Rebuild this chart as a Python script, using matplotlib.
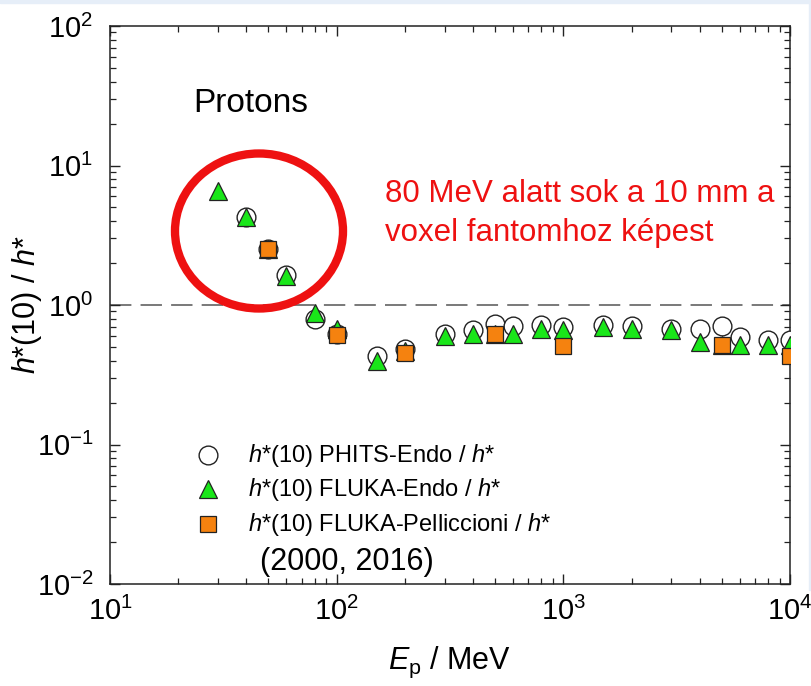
import matplotlib
matplotlib.use("Agg")
import matplotlib.pyplot as plt
from matplotlib.patches import Ellipse, Rectangle
from matplotlib.ticker import LogLocator, NullFormatter

plt.rcParams["font.family"] = ["Liberation Sans", "DejaVu Sans"]
plt.rcParams["mathtext.fontset"] = "custom"
plt.rcParams["mathtext.rm"] = "Liberation Sans"
plt.rcParams["mathtext.it"] = "Liberation Sans:italic"
plt.rcParams["mathtext.bf"] = "Liberation Sans:bold"

# Proton energies (MeV) and h*(10)/h* ratios
e_phits = [40, 50, 60, 80, 100, 150, 200, 300, 400, 500, 600, 800, 1000,
           1500, 2000, 3000, 4000, 5000, 6000, 8000, 10000]
r_phits = [4.3, 2.5, 1.65, 0.79, 0.62, 0.43, 0.48, 0.62, 0.66, 0.73, 0.71,
           0.72, 0.70, 0.72, 0.71, 0.67, 0.67, 0.71, 0.59, 0.56, 0.56]

e_fluka_endo = [30, 40, 50, 60, 80, 100, 150, 200, 300, 400, 500, 600, 800,
                1000, 1500, 2000, 3000, 4000, 5000, 6000, 8000, 10000]
r_fluka_endo = [6.6, 4.25, 2.5, 1.61, 0.88, 0.67, 0.40, 0.47, 0.60, 0.62,
                0.62, 0.62, 0.67, 0.66, 0.70, 0.67, 0.66, 0.54, 0.52, 0.52,
                0.52, 0.52]

e_fluka_pell = [50, 100, 200, 500, 1000, 5000, 10000]
r_fluka_pell = [2.5, 0.61, 0.45, 0.62, 0.51, 0.52, 0.43]

x_ticks = [1e1, 1e2, 1e3, 1e4]
y_ticks = [1e-2, 1e-1, 1e0, 1e1, 1e2]

legend_labels = [r"$h$*(10) PHITS-Endo / $h$*",
                 r"$h$*(10) FLUKA-Endo / $h$*",
                 r"$h$*(10) FLUKA-Pelliccioni / $h$*"]
legend_extra = "(2000, 2016)"

W, H = 812, 686
fig = plt.figure(figsize=(W / 100, H / 100), dpi=100)
ax = fig.add_axes([110 / W, 1 - 584 / H, 680 / W, 558 / H])
ax.set_xscale("log")
ax.set_yscale("log")
ax.set_xlim(10, 1e4)
ax.set_ylim(1e-2, 1e2)

ax.axhline(1.0, color="#555555", lw=1.1, dashes=(14, 6), zorder=1)

circle_style = dict(marker="o", ms=13.5, mfc="white", mec="#222222", mew=1.0, ls="none")
tri_style = dict(marker="^", ms=13.5, mfc="#19e619", mec="#222222", mew=0.9, ls="none")
sq_style = dict(marker="s", ms=12, mfc="#f5820f", mec="#222222", mew=0.9, ls="none")

ax.plot(e_phits, r_phits, zorder=3, **circle_style)
ax.plot(e_fluka_endo, r_fluka_endo, zorder=4, **tri_style)
ax.plot(e_fluka_pell, r_fluka_pell, zorder=5, **sq_style)

# Axis ticks
ax.set_xticks(x_ticks)
ax.set_yticks(y_ticks)
ax.xaxis.set_minor_locator(LogLocator(base=10, subs=range(2, 10), numticks=20))
ax.yaxis.set_minor_locator(LogLocator(base=10, subs=range(2, 10), numticks=20))
ax.xaxis.set_minor_formatter(NullFormatter())
ax.yaxis.set_minor_formatter(NullFormatter())
ax.tick_params(which="both", direction="in", top=True, right=True, color="#222222")
ax.tick_params(which="major", length=7, width=1.0, labelsize=21, pad=9)
ax.tick_params(which="minor", length=4, width=0.9)
ax.tick_params(axis="y", which="major", pad=12)
for sp in ax.spines.values():
    sp.set_linewidth(1.1)
    sp.set_color("#222222")

ax.set_xlabel(r"$E_{\mathrm{p}}$ / MeV", fontsize=22, labelpad=14)
ax.set_ylabel(r"$h$*(10) / $h$*", fontsize=22)
ax.yaxis.set_label_coords(-0.097, 0.5)

ax.text(0.122, 0.861, "Protons", transform=ax.transAxes, fontsize=24,
        va="center", ha="left")

# Legend drawn as markers with text beside them
leg_rows = [0.231, 0.170, 0.1075]
for yy, style, lab in zip(leg_rows, [circle_style, tri_style, sq_style], legend_labels):
    ax.plot([0.144], [yy], transform=ax.transAxes, clip_on=False, zorder=6, **style)
    ax.text(0.203, yy, lab, transform=ax.transAxes, fontsize=17,
            va="center", ha="left")
ax.text(0.221, 0.039, legend_extra, transform=ax.transAxes, fontsize=22,
        va="center", ha="left")

# Annotation: circled low-energy region and remark
fig.patches.append(Ellipse((259 / W, 1 - 231 / H), 168 / W, 155 / H,
                           transform=fig.transFigure, fill=False,
                           edgecolor="#ee1111", lw=6, zorder=10))
fig.text(385 / W, 1 - 194 / H, "80 MeV alatt sok a 10 mm a", color="#ee1111",
         fontsize=22.5, va="center", ha="left")
fig.text(385 / W, 1 - 233 / H, "voxel fantomhoz képest", color="#ee1111",
         fontsize=22.5, va="center", ha="left")

# Light slide frame at the top and right edges
fig.patches.append(Rectangle((0, 1 - 3 / H), 1, 3 / H, transform=fig.transFigure,
                             color="#e6eef8", zorder=0))
fig.patches.append(Rectangle((1 - 3 / W, 1 - 590 / H), 3 / W, 590 / H,
                             transform=fig.transFigure, color="#e6eef8", zorder=0))

fig.savefig("out.png", dpi=100)
